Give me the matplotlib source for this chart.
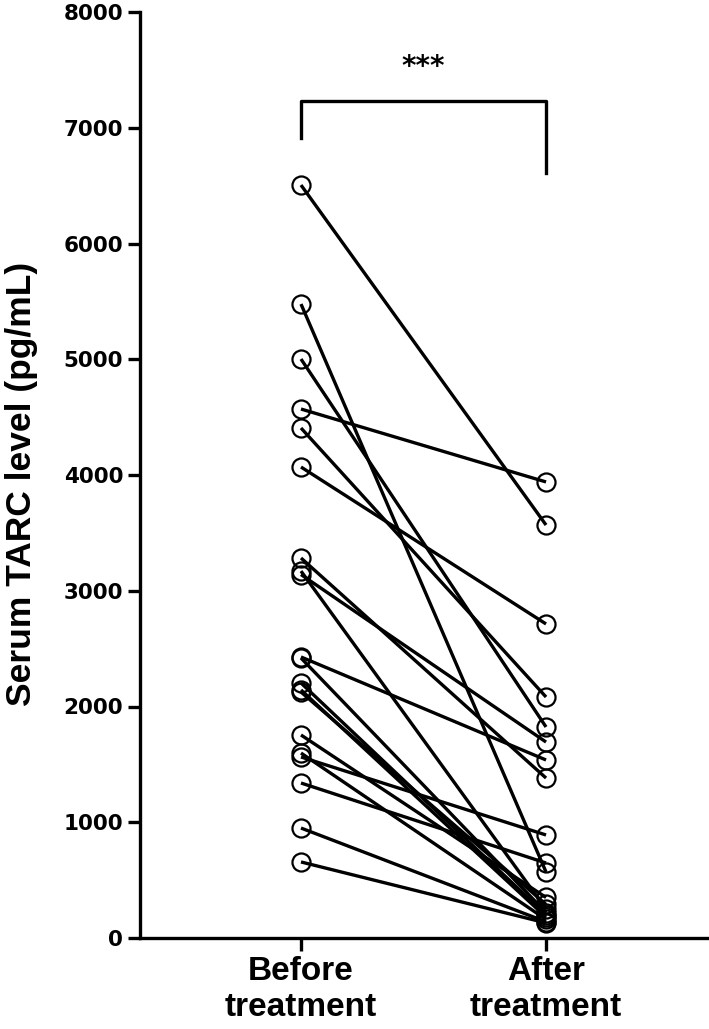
import matplotlib
matplotlib.use("Agg")
import matplotlib.pyplot as plt
from matplotlib import font_manager

# paired serum TARC values (pg/mL)
before = [6505, 5477, 5002, 4570, 4406, 4069, 3283, 3170, 3140, 2428,
          2419, 2203, 2143, 2125, 1754, 1598, 1564, 1339, 950, 657]
after = [3568, 570, 1823, 3940, 2082, 2713, 1382, 250, 1693, 1538,
         220, 200, 180, 290, 350, 160, 890, 648, 140, 130]

groups = ["Before\ntreatment", "After\ntreatment"]
yticks = [0, 1000, 2000, 3000, 4000, 5000, 6000, 7000, 8000]

# bracket for significance
bracket_left, bracket_top, bracket_right = 6911, 7231, 6609
sig_text = "***"

names = {f.name for f in font_manager.fontManager.ttflist}
narrow = "Liberation Sans Narrow" if "Liberation Sans Narrow" in names else "Liberation Sans"

fig = plt.figure(figsize=(7.09, 10.29), dpi=100)
ax = fig.add_axes([140 / 709, 91 / 1029, 569 / 709, 926 / 1029])

for b, a in zip(before, after):
    ax.plot([0, 1], [b, a], color="black", lw=2.4, marker="o", ms=13,
            mfc="none", mec="black", mew=1.6, solid_capstyle="butt")

ax.plot([0, 0, 1, 1], [bracket_left, bracket_top, bracket_top, bracket_right],
        color="black", lw=2.4)
ax.text(0.5, 7525, sig_text, ha="center", va="center", fontsize=20,
        fontweight="bold", family="DejaVu Sans")

ax.set_xlim(-0.657, 1.665)
ax.set_ylim(0, 8000)
ax.set_yticks(yticks)
ax.set_yticklabels([str(v) for v in yticks], fontsize=15.5, fontweight="bold",
                   family="DejaVu Sans")
ax.set_xticks([0, 1])
ax.set_xticklabels(groups, fontsize=24, fontweight="bold", family=narrow,
                   linespacing=1.2)
ax.set_ylabel("Serum TARC level (pg/mL)", fontsize=25.5, fontweight="bold",
              family=narrow)
ax.yaxis.set_label_coords(-0.18, 0.49)

for s in ["top", "right"]:
    ax.spines[s].set_visible(False)
for s in ["left", "bottom"]:
    ax.spines[s].set_linewidth(2.4)
ax.tick_params(axis="both", width=2.4, length=9, color="black")
ax.tick_params(axis="x", pad=4)
ax.tick_params(axis="y", pad=3)

fig.savefig("out.png", dpi=100)
